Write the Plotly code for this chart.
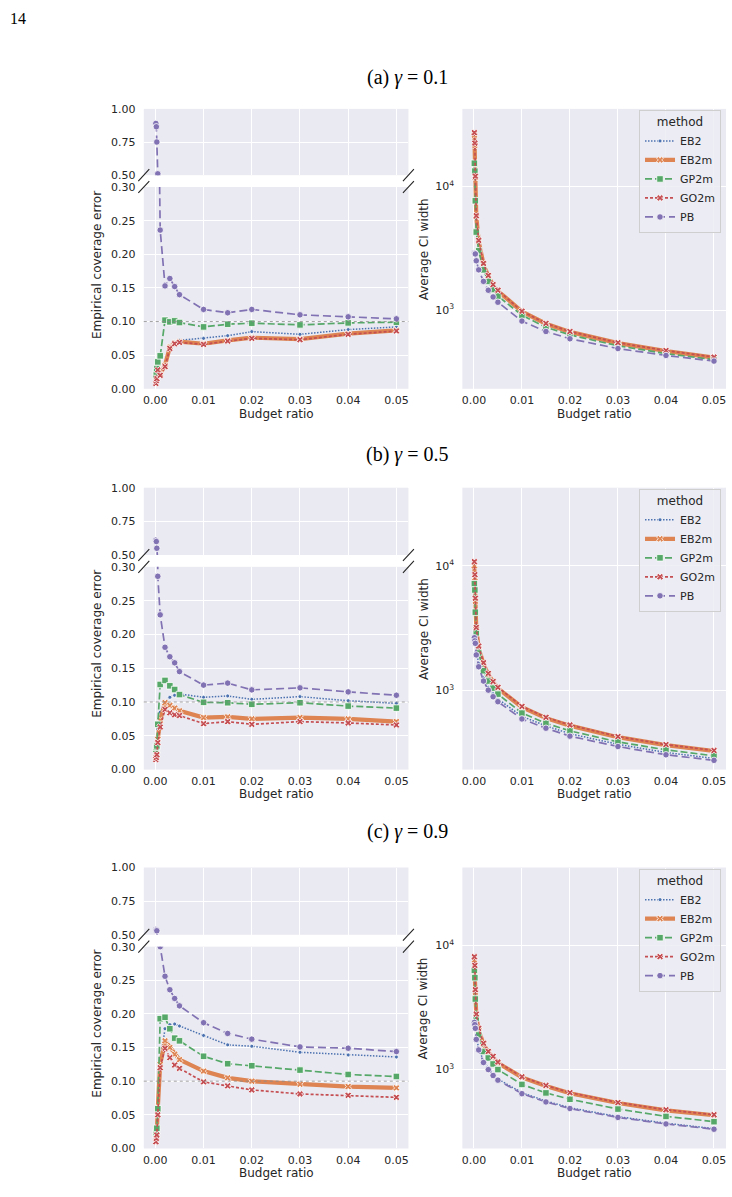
import plotly.graph_objects as go

# ---------------- data ----------------
budget = [0.0001, 0.0002, 0.0003, 0.0005, 0.001, 0.002, 0.003, 0.004, 0.005,
          0.01, 0.015, 0.02, 0.03, 0.04, 0.05]
methods = ["EB2", "EB2m", "GP2m", "GO2m", "PB"]
gammas = ["0.1", "0.5", "0.9"]
panel_letters = ["a", "b", "c"]
x_ticks = [0.0, 0.01, 0.02, 0.03, 0.04, 0.05]
err_top_ticks = [0.5, 0.75, 1.0]
err_bottom_ticks = [0.0, 0.05, 0.10, 0.15, 0.20, 0.25, 0.30]
width_ticks = [1000, 10000]
width_tick_text = ["10<sup>3</sup>", "10<sup>4</sup>"]

# Empirical coverage error, gamma = 0.1
err01_EB2 = [0.013, 0.020, 0.025, 0.033, 0.024, 0.037, 0.063, 0.069, 0.072, 0.075, 0.079, 0.085, 0.081, 0.088, 0.092]
err01_EB2m = [0.012, 0.018, 0.022, 0.032, 0.022, 0.035, 0.062, 0.068, 0.070, 0.067, 0.072, 0.076, 0.074, 0.082, 0.087]
err01_GP2m = [0.020, 0.025, 0.030, 0.040, 0.049, 0.102, 0.0995, 0.101, 0.0985, 0.092, 0.096, 0.0975, 0.095, 0.098, 0.099]
err01_GO2m = [0.008, 0.012, 0.015, 0.028, 0.020, 0.033, 0.060, 0.067, 0.069, 0.066, 0.071, 0.075, 0.073, 0.081, 0.086]
err01_PB = [0.89, 0.865, 0.75, 0.51, 0.236, 0.153, 0.164, 0.152, 0.140, 0.118, 0.113, 0.118, 0.110, 0.107, 0.104]

# Empirical coverage error, gamma = 0.5
err05_EB2 = [0.020, 0.025, 0.030, 0.060, 0.085, 0.100, 0.107, 0.110, 0.112, 0.107, 0.109, 0.104, 0.108, 0.102, 0.098]
err05_EB2m = [0.018, 0.022, 0.028, 0.045, 0.073, 0.099, 0.095, 0.091, 0.087, 0.077, 0.078, 0.075, 0.077, 0.075, 0.071]
err05_GP2m = [0.030, 0.033, 0.035, 0.067, 0.126, 0.132, 0.124, 0.1185, 0.111, 0.0995, 0.099, 0.0966, 0.099, 0.094, 0.091]
err05_GO2m = [0.015, 0.018, 0.022, 0.040, 0.063, 0.089, 0.084, 0.081, 0.080, 0.068, 0.071, 0.067, 0.071, 0.069, 0.066]
err05_PB = [0.61, 0.60, 0.55, 0.286, 0.229, 0.181, 0.167, 0.158, 0.145, 0.125, 0.128, 0.118, 0.121, 0.115, 0.110]

# Empirical coverage error, gamma = 0.9
err09_EB2 = [0.015, 0.020, 0.030, 0.060, 0.130, 0.178, 0.184, 0.185, 0.182, 0.168, 0.154, 0.152, 0.143, 0.139, 0.136]
err09_EB2m = [0.015, 0.020, 0.025, 0.060, 0.125, 0.160, 0.150, 0.140, 0.132, 0.115, 0.105, 0.100, 0.0955, 0.092, 0.090]
err09_GP2m = [0.022, 0.024, 0.030, 0.059, 0.193, 0.195, 0.178, 0.164, 0.160, 0.137, 0.126, 0.123, 0.1165, 0.110, 0.107]
err09_GO2m = [0.010, 0.015, 0.020, 0.050, 0.120, 0.149, 0.135, 0.124, 0.119, 0.099, 0.093, 0.087, 0.081, 0.079, 0.076]
err09_PB = [0.54, 0.535, 0.53, 0.40, 0.30, 0.256, 0.236, 0.223, 0.212, 0.187, 0.171, 0.1625, 0.151, 0.149, 0.144]

# Average CI width, gamma = 0.1
wid01_EB2 = [24000, 20000, 11000, 5500, 3500, 2300, 1850, 1570, 1410, 960, 770, 660, 535, 462, 408]
wid01_EB2m = [26000, 21500, 11800, 5700, 3600, 2350, 1880, 1590, 1430, 975, 778, 668, 542, 468, 414]
wid01_GP2m = [15400, 13300, 7660, 4280, 3020, 2120, 1710, 1470, 1300, 912, 728, 632, 516, 446, 398]
wid01_GO2m = [27200, 22400, 12100, 5800, 3670, 2390, 1910, 1610, 1450, 982, 783, 673, 546, 472, 418]
wid01_PB = [2900, 2880, 2850, 2510, 2120, 1710, 1450, 1280, 1160, 817, 673, 588, 490, 431, 388]

# Average CI width, gamma = 0.5
wid05_EB2 = [2800, 2650, 2500, 2050, 1650, 1260, 1060, 940, 855, 620, 520, 450, 370, 318, 285]
wid05_EB2m = [10000, 8000, 5200, 3100, 2200, 1630, 1340, 1160, 1040, 735, 600, 522, 422, 364, 327]
wid05_GP2m = [7200, 6400, 4250, 2900, 2000, 1440, 1190, 1045, 935, 659, 545, 474, 387, 334, 299]
wid05_GO2m = [10800, 8500, 5500, 3200, 2270, 1670, 1370, 1180, 1060, 745, 609, 529, 427, 368, 330]
wid05_PB = [2650, 2500, 2390, 1930, 1550, 1190, 1006, 891, 813, 591, 498, 430, 355, 305, 275]

# Average CI width, gamma = 0.9
wid09_EB2 = [2500, 2400, 2250, 1820, 1490, 1170, 1025, 915, 840, 652, 558, 493, 418, 370, 335]
wid09_EB2m = [7600, 6500, 4200, 2700, 2080, 1600, 1380, 1260, 1130, 865, 738, 645, 538, 470, 429]
wid09_GP2m = [6300, 5500, 3700, 2600, 1900, 1400, 1240, 1110, 1000, 760, 649, 577, 481, 420, 381]
wid09_GO2m = [8100, 6900, 4400, 2800, 2150, 1630, 1400, 1280, 1150, 875, 746, 652, 543, 475, 433]
wid09_PB = [2400, 2300, 2150, 1750, 1440, 1140, 1000, 896, 822, 640, 549, 486, 412, 365, 331]

err_data = [
    [err01_EB2, err01_EB2m, err01_GP2m, err01_GO2m, err01_PB],
    [err05_EB2, err05_EB2m, err05_GP2m, err05_GO2m, err05_PB],
    [err09_EB2, err09_EB2m, err09_GP2m, err09_GO2m, err09_PB],
]
wid_data = [
    [wid01_EB2, wid01_EB2m, wid01_GP2m, wid01_GO2m, wid01_PB],
    [wid05_EB2, wid05_EB2m, wid05_GP2m, wid05_GO2m, wid05_PB],
    [wid09_EB2, wid09_EB2m, wid09_GP2m, wid09_GO2m, wid09_PB],
]

# ---------------- styles ----------------
W, H = 732, 1197
colors = {"EB2": "#4C72B0", "EB2m": "#DD8452", "GP2m": "#55A868", "GO2m": "#C44E52", "PB": "#8172B3"}
dashes = {"EB2": "1.5px,1.5px", "EB2m": "solid", "GP2m": "7px,3px", "GO2m": "3px,2px", "PB": "8px,4px"}
widths = {"EB2": 1.5, "EB2m": 4.2, "GP2m": 1.7, "GO2m": 1.7, "PB": 1.7}
symbols = {"EB2": "circle", "EB2m": "x", "GP2m": "square", "GO2m": "x", "PB": "circle"}
msizes = {"EB2": 4, "EB2m": 6, "GP2m": 6.5, "GO2m": 6, "PB": 6.5}
TXT = "#262626"
BG = "#EAEAF2"


def px_x(p):
    return p / W


def px_y(p):
    return 1 - p / H


LEFT_X = (143, 408)
RIGHT_X = (462, 726)
rows_px = [  # top-axis top, top-axis bottom, bottom-axis top, bottom-axis bottom
    (104, 171, 183, 387),
    (487, 555, 567, 772),
    (871, 939, 951, 1155),
]
title_y = [72, 453, 835]
XRANGE = [-0.0024, 0.0525]
LOGRANGE = [2.365, 4.627]

fig = go.Figure()
layout = dict(
    width=W, height=H, margin=dict(l=0, r=0, t=0, b=0),
    paper_bgcolor="white", plot_bgcolor=BG,
    font=dict(family="DejaVu Sans", color=TXT, size=11),
    shapes=[], annotations=[],
)


def axname(i, kind):
    return kind + ("" if i == 1 else str(i))


def note(text, xp, yp, size, family="DejaVu Sans", color=TXT, angle=0, xanchor="center"):
    return dict(text=text, x=px_x(xp), y=px_y(yp), xref="paper", yref="paper",
                xanchor=xanchor, yanchor="middle", showarrow=False, textangle=angle,
                font=dict(family=family, size=size, color=color))


for r in range(3):
    top, topb, bot, botb = rows_px[r]
    i_top, i_bot, i_right = 3 * r + 1, 3 * r + 2, 3 * r + 3
    legend_name = "legend" if r == 0 else "legend%d" % (r + 1)

    for k, m in enumerate(methods):
        base = dict(
            x=budget, mode="lines+markers",
            line=dict(color=colors[m], width=widths[m], dash=dashes[m]),
            marker=dict(symbol=symbols[m], size=msizes[m], color=colors[m],
                        line=dict(color="white", width=0.8)),
            name=m,
        )
        for idx in (i_top, i_bot):
            fig.add_trace(go.Scatter(y=err_data[r][k], xaxis="x%d" % idx, yaxis="y%d" % idx,
                                     showlegend=False, **base))
        fig.add_trace(go.Scatter(y=wid_data[r][k], xaxis="x%d" % i_right, yaxis="y%d" % i_right,
                                 showlegend=True, legend=legend_name, **base))

    common_x = dict(range=XRANGE, tickvals=x_ticks, tickformat=".2f", showgrid=True,
                    gridcolor="white", gridwidth=1, zeroline=False, showline=False,
                    ticks="outside", ticklen=1, tickcolor="rgba(0,0,0,0)",
                    tickfont=dict(size=11, color=TXT))
    common_y = dict(showgrid=True, gridcolor="white", gridwidth=1, zeroline=False,
                    showline=False, ticks="outside", ticklen=5, tickcolor="rgba(0,0,0,0)",
                    tickfont=dict(size=11, color=TXT))

    layout[axname(i_top, "xaxis")] = dict(common_x, domain=[px_x(LEFT_X[0]), px_x(LEFT_X[1])],
                                          anchor="y%d" % i_top, showticklabels=False)
    layout[axname(i_top, "yaxis")] = dict(common_y, domain=[px_y(topb), px_y(top)],
                                          anchor="x%d" % i_top, range=[0.5, 1.0],
                                          tickvals=err_top_ticks, tickformat=".2f")
    layout[axname(i_bot, "xaxis")] = dict(common_x, domain=[px_x(LEFT_X[0]), px_x(LEFT_X[1])],
                                          anchor="y%d" % i_bot)
    layout[axname(i_bot, "yaxis")] = dict(common_y, domain=[px_y(botb), px_y(bot)],
                                          anchor="x%d" % i_bot, range=[0.0, 0.3],
                                          tickvals=err_bottom_ticks, tickformat=".2f")
    layout[axname(i_right, "xaxis")] = dict(common_x, domain=[px_x(RIGHT_X[0]), px_x(RIGHT_X[1])],
                                            anchor="y%d" % i_right)
    layout[axname(i_right, "yaxis")] = dict(common_y, domain=[px_y(botb), px_y(top)],
                                            anchor="x%d" % i_right, type="log", range=LOGRANGE,
                                            tickvals=width_ticks, ticktext=width_tick_text)

    # legend
    layout[legend_name] = dict(
        x=px_x(721), y=px_y(top + 1), xanchor="right", yanchor="top",
        bgcolor="rgba(236,236,244,0.85)", bordercolor="#CFCFCF", borderwidth=1,
        font=dict(size=11, color=TXT), itemwidth=30, tracegroupgap=0,
        title=dict(text="method", side="top center", font=dict(size=12, color=TXT)),
    )

    # reference line at 0.1
    layout["shapes"].append(dict(type="line", xref="x%d domain" % i_bot, yref="y%d" % i_bot,
                                 x0=0, x1=1, y0=0.1, y1=0.1,
                                 line=dict(color="#8A8A8A", width=0.8, dash="dot")))
    # break marks
    for xb in LEFT_X:
        for yb in (topb, bot):
            layout["shapes"].append(dict(type="line", xref="paper", yref="paper",
                                         x0=px_x(xb - 5.5), y0=px_y(yb + 6),
                                         x1=px_x(xb + 5.5), y1=px_y(yb - 6),
                                         line=dict(color="#222222", width=1.1)))

    # titles and axis labels
    layout["annotations"].append(note(
        "(%s) <i>γ</i> = %s" % (panel_letters[r], gammas[r]), 407, title_y[r], 20,
        family="Liberation Serif", color="black"))
    for cx in ((LEFT_X[0] + LEFT_X[1]) / 2, (RIGHT_X[0] + RIGHT_X[1]) / 2):
        layout["annotations"].append(note("Budget ratio", cx, botb + 25, 12))
    layout["annotations"].append(note("Empirical coverage error", 96, top + 158, 12, angle=-90))
    layout["annotations"].append(note("Average CI width", 423, (top + botb) / 2, 12, angle=-90))

layout["annotations"].append(note("14", 7, 13, 16, family="Liberation Serif", color="black",
                                  xanchor="left"))

fig.update_layout(**layout)
fig.write_html("out.html")
